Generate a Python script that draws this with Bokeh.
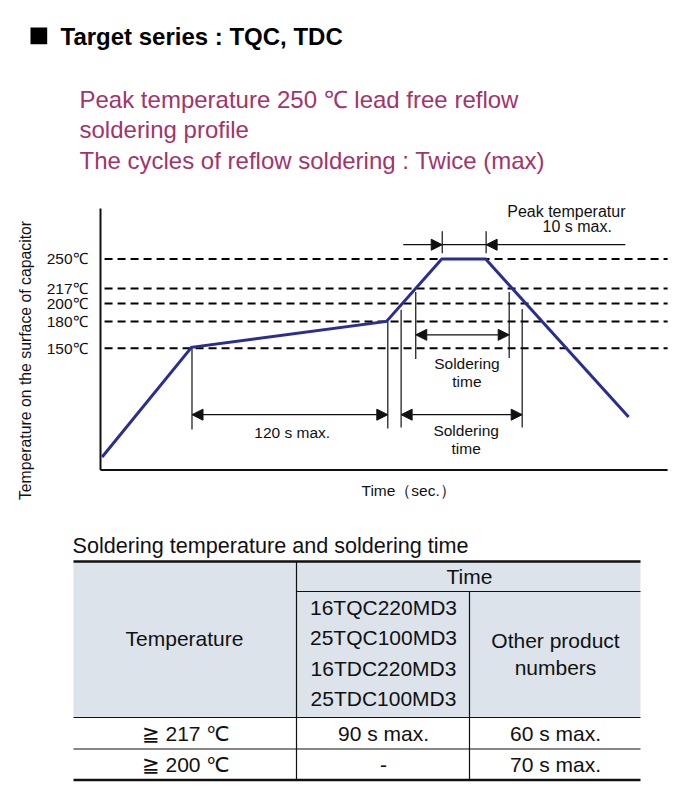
import math
from bokeh.plotting import figure
from bokeh.models import Range1d, CoordinateMapping, Arrow, NormalHead, ColumnDataSource
from bokeh.plotting.glyph_api import GlyphAPI
from bokeh.core.properties import value
from bokeh.embed import file_html
from bokeh.resources import INLINE

# ---------------- data (schematic time scale) ----------------
profile_time = [1, 56, 176, 210, 237, 325]          # s
profile_temp = [28, 151, 180, 250, 250, 73]         # degC

level_temps = [250, 217, 200, 180, 150]
level_labels = ["250℃", "217℃", "200℃", "180℃", "150℃"]

guide_time = [56.3, 176.8, 185.0, 194.0, 251.5, 259.5]
guide_top = [150, 180, 193, 213, 213, 194]
guide_bottom = [59, 60, 61, 138, 139, 61]

dim_start = [56.3, 185.0, 194.0]
dim_end = [176.8, 259.5, 251.5]
dim_temp = [75.5, 75.5, 165]
dim_label_time = [118, 225, 225.5]
dim_label_temp = [56, 48, 122.5]
dim_labels = ["120 s max.", "Soldering\ntime", "Soldering\ntime"]

peak_start, peak_end, peak_temp = 210.3, 237.3, 266
peak_tick_low, peak_tick_high = 256.5, 281
peak_lead_left, peak_lead_right = 186.3, 323
peak_text = ["Peak temperatur", "10 s max."]
peak_text_time = [250.3, 272]
peak_text_temp = [303.6, 286.4]

time_range = (0, 350)
temp_range = (13.5, 306.6)

title = "Target series : TQC, TDC"
subtitle = ["Peak temperature 250 ℃ lead free reflow", "soldering profile",
            "The cycles of reflow soldering : Twice (max)"]
y_title = "Temperature on the surface of capacitor"
x_title = "Time（sec.）"

table_title = "Soldering temperature and soldering time"
table_products = ["16TQC220MD3", "25TQC100MD3", "16TDC220MD3", "25TDC100MD3"]
table_row_temps = ["≧ 217 ℃", "≧ 200 ℃"]
table_special = ["90 s max.", "-"]
table_other = ["60 s max.", "70 s max."]

# ---------------- figure (page coordinates) ----------------
W, H = 673, 793
p = figure(width=W, height=H, x_range=Range1d(0, W), y_range=Range1d(H, 0),
           output_backend="svg", toolbar_location=None, min_border=0,
           x_axis_location=None, y_axis_location=None)
p.grid.visible = False
p.outline_line_color = None
p.background_fill_color = "white"
p.border_fill_color = "white"

FONT = value("Liberation Sans")
INK = "#111111"
CFS = "15.5px"

# heading
p.quad(left=30, right=46.7, top=27, bottom=43.7, fill_color="black", line_color=None)
p.text(x=[60], y=[35.5], text=[title], text_font=FONT, text_font_size="24px",
       text_font_style="bold", text_color="black", text_baseline="middle", text_align="left")
p.text(x=[79, 79, 79], y=[98.5, 128.5, 160], text=subtitle, text_font=FONT,
       text_font_size="24px", text_color="#A2346A", text_baseline="middle", text_align="left")

# ---------------- chart sub-coordinates ----------------
mapping = CoordinateMapping(x_source=Range1d(*time_range), y_source=Range1d(*temp_range),
                            x_target=Range1d(100, 668.75), y_target=Range1d(469.5, 208))
sub = GlyphAPI(p, mapping)

# axes lines
sub.segment(x0=[time_range[0], time_range[0]], y0=[temp_range[0], temp_range[0]],
            x1=[time_range[0], 349], y1=[temp_range[1], temp_range[0]],
            line_color=INK, line_width=2)

# dashed level lines
sub.segment(x0=[2.5] * len(level_temps), y0=level_temps, x1=[349] * len(level_temps), y1=level_temps,
            line_color="black", line_width=2, line_dash="8 5")
sub.text(x=[-8] * len(level_temps), y=level_temps, text=level_labels, text_font=FONT,
         text_font_size=CFS, text_color=INK, text_align="right", text_baseline="middle")

# guides
sub.segment(x0=guide_time, y0=guide_top, x1=guide_time, y1=guide_bottom, line_color=INK, line_width=1.2)

# dimension arrows
dsrc = ColumnDataSource(dict(x0=dim_start, x1=dim_end, y=dim_temp))
p.add_layout(Arrow(x_start="x0", y_start="y", x_end="x1", y_end="y", source=dsrc,
                   line_color=INK, line_width=1.2,
                   start=NormalHead(size=11, fill_color=INK, line_color=INK, line_width=1),
                   end=NormalHead(size=11, fill_color=INK, line_color=INK, line_width=1),
                   coordinates=mapping))
sub.text(x=dim_label_time, y=dim_label_temp, text=dim_labels, text_font=FONT,
         text_font_size=CFS, text_color=INK, text_align="center", text_baseline="middle",
         text_line_height=1.07)

# peak duration marker
sub.segment(x0=[peak_start, peak_end], y0=[peak_tick_low] * 2, x1=[peak_start, peak_end],
            y1=[peak_tick_high] * 2, line_color=INK, line_width=1.2)
sub.segment(x0=[peak_start], y0=[peak_temp], x1=[peak_end], y1=[peak_temp], line_color=INK, line_width=1.2)
psrc = ColumnDataSource(dict(x0=[peak_lead_left, peak_lead_right], x1=[peak_start, peak_end],
                             y=[peak_temp, peak_temp]))
p.add_layout(Arrow(x_start="x0", y_start="y", x_end="x1", y_end="y", source=psrc,
                   line_color=INK, line_width=1.2, start=None,
                   end=NormalHead(size=11, fill_color=INK, line_color=INK, line_width=1),
                   coordinates=mapping))
sub.text(x=peak_text_time, y=peak_text_temp, text=peak_text, text_font=FONT,
         text_font_size="16px", text_color=INK, text_align="left", text_baseline="middle")

# profile
sub.line(x=profile_time, y=profile_temp, line_color="#2B2E90", line_width=3, line_join="miter")

# axis titles
p.text(x=[25], y=[360], text=[y_title], angle=math.pi / 2, text_font=FONT, text_font_size="15.8px",
       text_color=INK, text_align="center", text_baseline="middle")
p.text(x=[361], y=[489.5], text=[x_title], text_font=FONT, text_font_size=CFS,
       text_color=INK, text_align="left", text_baseline="middle")

# ---------------- table ----------------
TL, TR, C1, C2 = 73, 640, 296, 469
p.text(x=[72], y=[545], text=[table_title], text_font=FONT, text_font_size="21.6px",
       text_color=INK, text_align="left", text_baseline="middle")
p.quad(left=TL, right=TR, top=561, bottom=717, fill_color="#DCE3EB", line_color=None)
p.segment(x0=[TL, TL], y0=[561, 779.5], x1=[TR, TR], y1=[561, 779.5], line_color=INK, line_width=2.7)
p.segment(x0=[C1, TL, TL, C1, C2], y0=[591, 717, 748.5, 561, 591],
          x1=[TR, TR, TR, C1, C2], y1=[591, 717, 748.5, 779.5, 779.5],
          line_color=INK, line_width=1.2)
TFS = "21px"
p.text(x=[469], y=[575.5], text=["Time"], text_font=FONT, text_font_size=TFS, text_color=INK,
       text_align="center", text_baseline="middle")
p.text(x=[184], y=[638], text=["Temperature"], text_font=FONT, text_font_size=TFS, text_color=INK,
       text_align="center", text_baseline="middle")
p.text(x=[383] * 4, y=[606.5, 637, 667.5, 698], text=table_products, text_font=FONT,
       text_font_size=TFS, text_color=INK, text_align="center", text_baseline="middle")
p.text(x=[555, 555], y=[640, 667], text=["Other product", "numbers"], text_font=FONT,
       text_font_size=TFS, text_color=INK, text_align="center", text_baseline="middle")
p.text(x=[184, 184], y=[733, 764], text=table_row_temps, text_font=FONT, text_font_size=TFS,
       text_color=INK, text_align="center", text_baseline="middle")
p.text(x=[383, 383], y=[733, 764], text=table_special, text_font=FONT, text_font_size=TFS,
       text_color=INK, text_align="center", text_baseline="middle")
p.text(x=[555, 555], y=[733, 764], text=table_other, text_font=FONT, text_font_size=TFS,
       text_color=INK, text_align="center", text_baseline="middle")

open("out.html", "w").write(file_html(p, INLINE))
